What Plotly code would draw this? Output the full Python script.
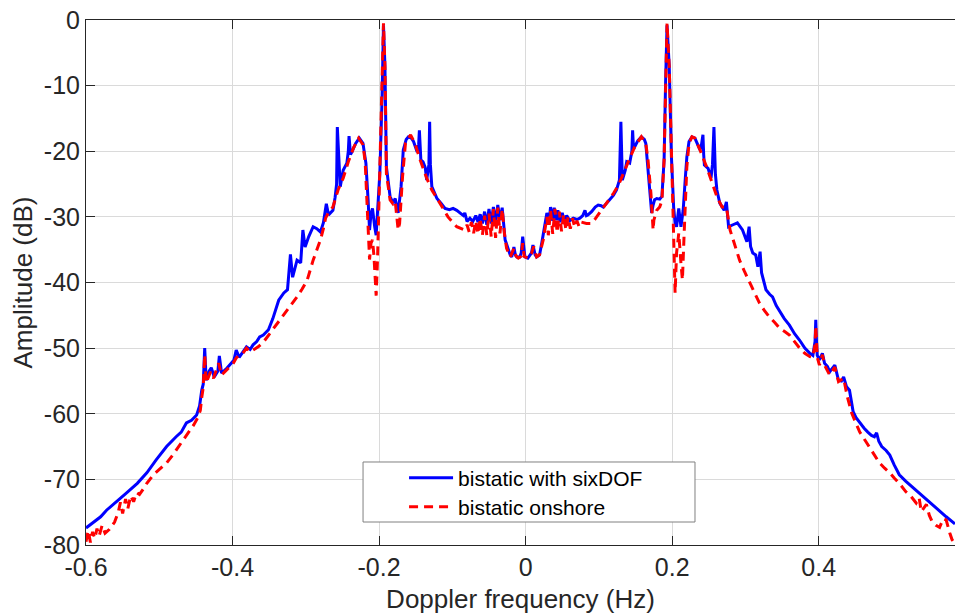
import plotly.graph_objects as go

# ---- data: bistatic with sixDOF (blue) ----
x_sixdof = [-0.600,-0.590,-0.580,-0.572,-0.560,-0.545,-0.530,-0.517,-0.504,-0.490,-0.477,-0.470,-0.463,-0.456,-0.449,-0.445,-0.442,-0.440,-0.438,-0.436,-0.432,-0.429,-0.425,-0.420,-0.418,-0.415,-0.409,-0.402,-0.398,-0.395,-0.391,-0.386,-0.381,-0.376,-0.372,-0.367,-0.363,-0.358,-0.351,
            -0.345,-0.337,-0.330,-0.325,-0.321,-0.318,-0.312,-0.307,-0.304,-0.301,-0.296,-0.290,-0.285,-0.280,-0.276,-0.272,-0.269,-0.263,-0.260,-0.258,-0.257,-0.255,-0.253,-0.249,-0.244,-0.242,-0.241,-0.239,-0.237,-0.232,-0.227,-0.222,-0.218,-0.215,-0.213,-0.211,-0.209,-0.206,-0.204,-0.202,-0.199,-0.196,-0.194,-0.192,-0.190,-0.185,-0.181,-0.178,-0.174,-0.170,-0.167,-0.163,-0.160,-0.156,-0.153,-0.148,-0.146,-0.145,-0.144,-0.143,-0.140,-0.137,-0.135,-0.132,-0.131,-0.130,-0.128,-0.124,-0.121,-0.115,-0.110,-0.104,-0.099,-0.094,-0.089,-0.085,-0.083,-0.080,-0.076,-0.072,
            -0.068,-0.065,-0.062,-0.059,-0.056,-0.053,-0.050,-0.047,-0.044,-0.041,-0.038,-0.035,-0.032,-0.030,-0.028,-0.024,-0.021,-0.019,-0.016,-0.014,-0.012,-0.008,-0.006,-0.004,-0.002,-0.001,0.003,0.008,0.010,0.013,0.015,0.019,0.022,0.024,0.027,0.029,0.032,0.034,0.037,0.039,0.042,0.044,0.047,0.050,0.053,0.056,0.060,0.065,0.070,0.074,0.078,0.081,0.083,0.085,0.090,0.095,0.099,0.103,0.106,0.110,0.115,0.120,0.124,0.128,0.130,0.131,0.132,0.136,0.138,0.142,0.145,0.146,0.147,0.149,0.153,0.158,0.162,0.164,0.167,0.170,0.172,0.174,0.176,0.179,0.183,0.186,0.189,0.191,0.193,0.196,0.199,0.202,0.204,0.206,0.209,0.212,0.215,0.218,0.220,0.223,0.227,0.231,0.235,0.238,0.240,0.242,0.243,0.244,0.249,0.253,0.255,0.257,0.259,0.261,0.265,0.271,0.274,0.277,0.283,0.289,0.296,0.302,0.305,0.307,0.310,0.314,0.317,0.320,0.322,0.325,0.328,0.333,0.337,0.342,0.347,0.353,0.360,0.367,0.374,0.381,0.388,0.392,0.395,0.396,0.397,0.398,0.401,0.405,0.408,0.412,0.415,0.419,0.422,0.427,0.431,0.434,0.438,0.442,0.447,0.451,0.456,0.462,0.467,0.472,0.476,0.479,0.482,0.486,0.492,0.497,0.503,0.510,0.519,0.528,0.537,0.547,0.556,0.565,0.574,0.583,0.586]
y_sixdof = [-77.4,-76.6,-75.7,-74.7,-73.6,-72.1,-70.6,-69.0,-67.0,-65.0,-63.5,-62.8,-61.4,-61.0,-60.2,-58.8,-56.4,-55.5,-50.0,-54.9,-53.5,-53.0,-54.4,-53.5,-51.2,-53.8,-53.2,-52.3,-51.8,-50.3,-51.4,-50.6,-49.8,-50.2,-49.5,-49.0,-48.3,-48.0,-47.2,
            -45.5,-42.7,-41.6,-41.1,-35.7,-39.2,-36.6,-37.0,-32.0,-34.6,-33.0,-31.5,-31.8,-32.3,-30.9,-28.0,-29.7,-29.0,-27.0,-25.0,-16.3,-22.0,-25.4,-22.9,-21.8,-20.0,-17.7,-20.5,-20.1,-18.8,-18.0,-18.8,-21.8,-27.4,-32.0,-29.5,-28.7,-31.5,-32.8,-29.0,-23.4,-12.2,-0.8,-7.1,-22.4,-26.9,-27.9,-27.2,-29.4,-25.4,-19.8,-18.2,-17.8,-18.0,-18.5,-20.1,-19.0,-16.8,-19.5,-21.3,-21.6,-22.5,-24.4,-22.0,-15.5,-22.0,-25.4,-26.5,-27.2,-28.0,-28.7,-28.9,-28.7,-29.0,-29.4,-29.8,-29.4,-30.7,-30.2,-30.7,
            -29.8,-30.8,-29.6,-31.0,-29.2,-31.2,-28.8,-31.0,-28.5,-30.8,-28.2,-30.5,-28.6,-31.0,-33.5,-34.8,-35.8,-36.1,-34.6,-35.8,-36.1,-36.1,-35.5,-33.0,-35.5,-36.1,-36.3,-35.5,-34.3,-35.8,-36.1,-35.8,-34.0,-32.5,-30.5,-29.4,-30.8,-28.5,-30.6,-28.6,-30.5,-29.0,-30.8,-29.4,-30.8,-29.8,-30.6,-30.2,-30.4,-30.2,-29.8,-29.0,-29.8,-29.7,-29.2,-28.5,-28.2,-28.3,-28.5,-28.0,-27.4,-26.7,-25.9,-24.4,-15.5,-22.0,-24.4,-22.9,-21.6,-21.8,-20.0,-16.8,-19.0,-19.3,-18.4,-17.8,-18.2,-18.8,-22.4,-27.0,-29.4,-28.2,-27.4,-27.2,-27.3,-26.9,-21.3,-9.6,-0.8,-7.1,-20.9,-28.5,-31.0,-31.5,-28.7,-31.5,-29.0,-24.0,-20.9,-18.5,-17.8,-18.0,-19.0,-19.8,-19.0,-17.5,-20.5,-22.1,-22.6,-24.1,-22.0,-16.3,-23.5,-25.9,-27.9,-29.0,-27.7,-31.5,-31.2,-30.9,-32.0,-33.8,-31.5,-34.5,-35.5,-35.8,-37.6,-35.3,-38.5,-40.0,-41.1,-41.8,-42.2,-43.5,-44.4,-45.5,-46.5,-47.8,-48.8,-50.0,-50.8,-51.1,-49.0,-45.7,-49.0,-51.1,-51.8,-50.8,-52.3,-52.8,-53.6,-53.0,-52.6,-54.9,-55.0,-54.4,-55.9,-56.4,-59.7,-60.6,-61.4,-62.2,-62.8,-63.3,-63.5,-62.9,-64.2,-65.0,-65.6,-66.3,-67.8,-69.3,-70.3,-71.2,-72.1,-73.1,-74.0,-74.9,-75.7,-76.5,-76.8]

# ---- data: bistatic onshore (red dashed) ----
x_onshore = [-0.600,-0.597,-0.594,-0.591,-0.588,-0.585,-0.582,-0.578,-0.574,-0.568,-0.561,-0.556,-0.553,-0.550,-0.546,-0.543,-0.539,-0.535,-0.531,-0.527,-0.522,-0.517,-0.508,-0.499,-0.490,-0.481,-0.472,-0.466,-0.459,-0.453,-0.447,-0.444,-0.442,-0.440,-0.438,-0.436,-0.430,-0.426,-0.419,-0.415,-0.407,-0.399,-0.395,-0.391,-0.386,-0.381,-0.376,-0.372,-0.365,-0.358,-0.352,-0.345,-0.337,-0.329,-0.320,-0.312,-0.305,-0.298,-0.290,-0.285,-0.280,-0.276,-0.273,-0.269,-0.263,-0.256,-0.249,-0.242,-0.235,-0.228,-0.222,-0.219,-0.216,-0.215,-0.213,-0.211,-0.209,-0.207,-0.205,-0.204,-0.202,-0.199,-0.196,-0.194,-0.192,-0.190,-0.185,-0.181,-0.178,-0.174,-0.172,-0.168,-0.164,-0.157,-0.151,-0.144,-0.135,-0.128,-0.117,-0.106,-0.094,-0.083,
             -0.080,-0.077,-0.074,-0.071,-0.068,-0.065,-0.062,-0.059,-0.056,-0.053,-0.050,-0.047,-0.044,-0.041,-0.038,-0.035,-0.032,-0.029,-0.026,-0.021,-0.016,-0.013,-0.010,-0.006,-0.004,-0.002,0.003,0.008,0.011,0.015,0.019,0.022,0.024,0.027,0.029,0.031,0.034,0.037,0.040,0.043,0.046,0.049,0.052,0.055,0.058,0.061,0.064,0.067,0.070,0.073,0.076,0.083,0.090,0.095,0.101,0.106,0.111,0.116,0.120,0.127,0.133,0.142,0.149,0.158,0.164,0.167,0.171,0.174,0.175,0.179,0.183,0.186,0.189,0.191,0.193,0.196,0.199,0.202,0.204,0.206,0.209,0.212,0.214,0.216,0.220,0.223,0.227,0.231,0.238,0.247,0.254,0.261,0.268,0.274,0.279,0.285,0.292,0.299,0.306,0.313,0.319,0.326,0.333,0.340,0.347,0.354,0.360,0.367,0.374,0.381,0.388,0.392,0.395,0.396,0.397,0.398,0.401,0.405,0.408,0.415,0.422,0.427,0.434,0.439,0.445,0.450,0.456,0.463,0.470,0.476,0.483,0.490,0.497,0.503,0.510,0.519,0.526,0.533,0.537,0.540,0.547,0.551,0.555,0.560,0.565,0.570,0.574,0.579,0.582,0.586]
y_onshore = [-79.5,-77.8,-79.6,-78.0,-79.0,-77.5,-78.6,-77.0,-78.2,-77.6,-76.5,-75.0,-73.5,-75.2,-73.0,-74.5,-72.5,-73.4,-72.0,-72.3,-71.5,-70.6,-69.3,-68.4,-67.5,-66.2,-64.8,-63.8,-62.8,-61.7,-60.5,-59.5,-57.5,-56.0,-51.0,-55.3,-53.6,-54.6,-52.3,-54.1,-53.2,-52.3,-51.5,-51.1,-50.8,-50.0,-50.6,-50.3,-49.8,-49.1,-48.2,-47.2,-46.0,-44.8,-43.5,-42.2,-41.0,-39.6,-36.6,-35.0,-33.5,-31.8,-30.2,-29.3,-28.5,-25.9,-24.1,-21.6,-19.5,-18.0,-19.0,-21.6,-29.0,-33.0,-36.5,-34.0,-33.5,-36.0,-39.0,-42.0,-36.0,-23.4,-12.2,-0.5,-7.1,-23.4,-27.4,-28.0,-27.6,-32.0,-31.0,-23.9,-18.8,-17.5,-18.8,-21.3,-24.1,-25.9,-27.9,-30.0,-31.5,-32.0,
             -31.2,-32.3,-30.8,-32.5,-30.6,-32.6,-30.2,-32.8,-29.8,-32.8,-29.5,-33.0,-28.8,-33.2,-28.6,-32.5,-28.8,-32.5,-34.8,-36.1,-34.8,-36.0,-36.3,-36.0,-34.0,-36.0,-36.3,-35.6,-34.5,-36.1,-35.8,-34.5,-33.5,-31.5,-30.0,-32.8,-29.0,-32.6,-28.8,-32.4,-29.2,-32.2,-29.6,-32.0,-30.0,-31.8,-30.2,-31.6,-30.6,-31.5,-30.8,-31.0,-31.0,-30.3,-29.4,-28.6,-27.9,-27.1,-26.4,-25.1,-23.4,-21.1,-19.3,-17.8,-18.8,-21.3,-26.4,-32.0,-30.5,-29.0,-28.5,-27.5,-21.3,-9.6,-0.5,-7.1,-20.9,-32.5,-41.6,-35.5,-32.5,-37.1,-39.6,-33.5,-22.4,-18.8,-17.8,-18.0,-19.8,-22.4,-24.7,-26.9,-28.5,-28.5,-32.0,-34.3,-36.6,-38.4,-40.1,-41.7,-43.1,-44.3,-45.3,-46.1,-47.0,-47.5,-48.0,-49.0,-50.0,-50.8,-51.3,-51.4,-49.5,-46.6,-49.5,-51.4,-52.6,-51.0,-52.6,-54.1,-52.9,-55.1,-54.6,-57.4,-59.9,-61.3,-62.8,-64.0,-65.3,-66.4,-67.5,-68.3,-69.0,-69.8,-70.6,-71.9,-72.6,-73.6,-72.8,-74.9,-73.8,-75.5,-76.5,-77.0,-77.3,-76.0,-76.2,-78.2,-79.2,-79.8]

x_ticks = [-0.6, -0.4, -0.2, 0, 0.2, 0.4]
x_tick_labels = ["-0.6", "-0.4", "-0.2", "0", "0.2", "0.4"]
y_ticks = [0, -10, -20, -30, -40, -50, -60, -70, -80]
y_tick_labels = ["0", "-10", "-20", "-30", "-40", "-50", "-60", "-70", "-80"]

FONT = "Arial, Liberation Sans, Helvetica, sans-serif"
TXT = "#262626"

fig = go.Figure()
fig.add_trace(go.Scatter(x=x_sixdof, y=y_sixdof, mode="lines", name="bistatic with sixDOF",
                         line=dict(color="#0000FF", width=3), legend="legend"))
fig.add_trace(go.Scatter(x=x_onshore, y=y_onshore, mode="lines", name="bistatic onshore",
                         line=dict(color="#FF0000", width=3, dash="9px,6px"), legend="legend2"))

leg_common = dict(xanchor="left", yanchor="middle", bgcolor="rgba(0,0,0,0)", borderwidth=0,
                  font=dict(family=FONT, size=21, color="black"), itemwidth=44)

fig.update_layout(
    width=955, height=614,
    margin=dict(l=86, r=0, t=20, b=69),
    paper_bgcolor="white", plot_bgcolor="white",
    font=dict(family=FONT, color=TXT, size=22),
    showlegend=True,
    legend=dict(x=0.366, y=0.1276, **leg_common),
    legend2=dict(x=0.366, y=0.0724, **leg_common),
    shapes=[dict(type="rect", xref="paper", yref="paper", x0=0.3188, x1=0.7008, y0=0.0438, y1=0.1581,
                 line=dict(color="#808080", width=1), fillcolor="white", layer="above")],
    xaxis=dict(range=[-0.6, 0.586], tickmode="array", tickvals=x_ticks, ticktext=x_tick_labels,
               showgrid=True, gridcolor="#dadada", gridwidth=1, zeroline=False,
               showline=True, linecolor=TXT, linewidth=1, mirror="ticks",
               ticks="inside", ticklen=9, tickcolor=TXT, tickfont=dict(size=25, color=TXT),
               title=dict(text="Doppler frequency (Hz)", font=dict(size=26, color=TXT), standoff=9)),
    yaxis=dict(range=[-80, 0], tickmode="array", tickvals=y_ticks, ticktext=y_tick_labels,
               showgrid=True, gridcolor="#dadada", gridwidth=1, zeroline=False,
               showline=True, linecolor=TXT, linewidth=1, mirror=False,
               ticks="inside", ticklen=9, tickcolor=TXT, tickfont=dict(size=25, color=TXT),
               title=dict(text="Amplitude (dB)", font=dict(size=26, color=TXT), standoff=3)),
)

fig.write_html("out.html")
